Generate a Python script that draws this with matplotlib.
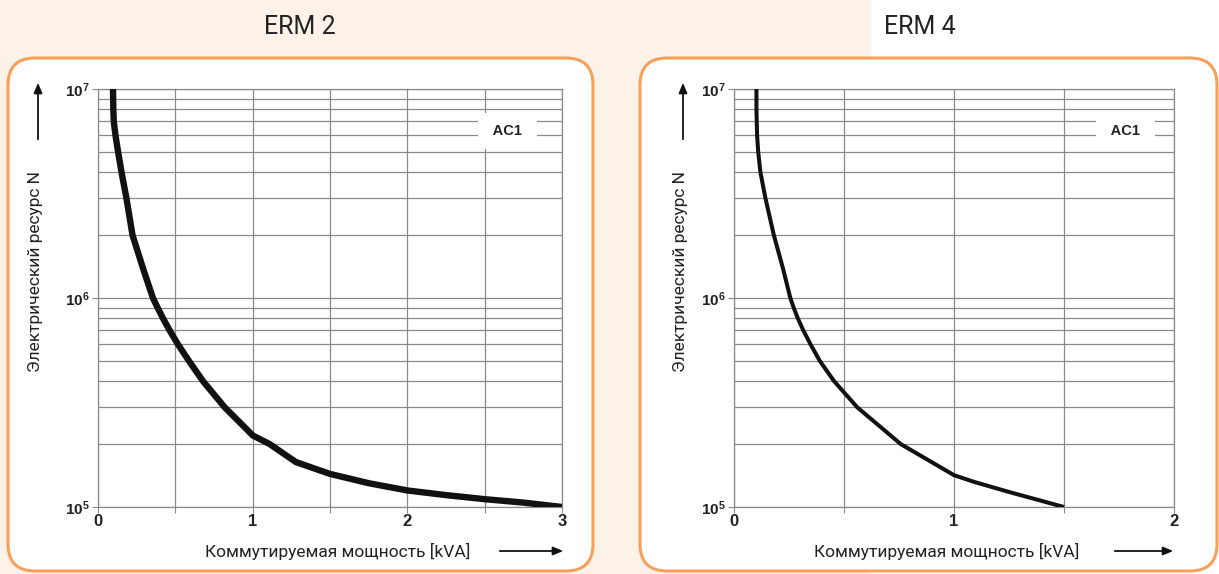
import numpy as np
import matplotlib
matplotlib.use("Agg")
import matplotlib.pyplot as plt
from matplotlib.patches import FancyBboxPatch, Rectangle
from matplotlib.ticker import FixedLocator, NullFormatter

# data (kVA -> number of operations)
erm2_kva = [0.097, 0.099, 0.102, 0.113, 0.130, 0.152, 0.184, 0.223, 0.292, 0.355,
            0.385, 0.420, 0.463, 0.517, 0.588, 0.679, 0.819, 0.970, 1.000, 1.110,
            1.280, 1.500, 1.750, 2.000, 2.250, 2.500, 2.750, 3.000]
erm2_ops = [1e7, 8e6, 7e6, 6e6, 5e6, 4e6, 3e6, 2e6, 1.38e6, 1e6,
            9e5, 8e5, 7e5, 6e5, 5e5, 4e5, 3e5, 2.32e5, 2.2e5, 2e5,
            1.64e5, 1.44e5, 1.3e5, 1.2e5, 1.14e5, 1.09e5, 1.05e5, 1e5]

erm4_kva = [0.102, 0.102, 0.105, 0.110, 0.120, 0.143, 0.181, 0.223, 0.256, 0.271,
            0.290, 0.315, 0.348, 0.390, 0.455, 0.560, 0.758, 1.000, 1.090, 1.250, 1.500]
erm4_ops = [1e7, 8e6, 6e6, 5e6, 4e6, 3e6, 2e6, 1.38e6, 1e6, 9e5,
            8e5, 7e5, 6e5, 5e5, 4e5, 3e5, 2e5, 1.42e5, 1.32e5, 1.18e5, 1e5]

titles = ["ERM 2", "ERM 4"]
xmax = [3, 2]
ytick_labels = ["10$^5$", "10$^6$", "10$^7$"]
ylabel = "Электрический ресурс N"
xlabel = "Коммутируемая мощность [kVA]"
curve_tag = " AC1 "

W, H = 1219, 574
ORANGE = "#f6a15b"
PEACH = "#fdf2e8"
GRID = "#8a8a8a"
label_font = ["Roboto", "DejaVu Sans"]
arial = ["Liberation Sans", "DejaVu Sans"]

plt.rcParams["mathtext.fontset"] = "custom"
plt.rcParams["mathtext.rm"] = "Liberation Sans:bold"
plt.rcParams["mathtext.it"] = "Liberation Sans:bold"
plt.rcParams["mathtext.bf"] = "Liberation Sans:bold"

fig = plt.figure(figsize=(W / 100, H / 100), dpi=100, facecolor="white")
inch = fig.dpi_scale_trans

# peach band behind left part
fig.patches.append(Rectangle((0, 0), 8.71, H / 100, transform=inch,
                             facecolor=PEACH, edgecolor="none", zorder=0))

# rounded white panels
for x0, x1 in [(8, 593), (640, 1217)]:
    fig.patches.append(FancyBboxPatch((x0 / 100, 0.03), (x1 - x0) / 100, (574 - 58 - 3) / 100,
                                      boxstyle="round,pad=0,rounding_size=0.27",
                                      transform=inch, facecolor="white",
                                      edgecolor=ORANGE, linewidth=2.2, zorder=1))


def fx(px):
    return px / W


def fy(py):
    return 1 - py / H


# pixel geometry of the two plot areas
panels = [
    dict(left=98, right=562, title_x=300, ylab_x=36, arr_x=38, xlab_x=338, xarr=(497, 566),
         tag_x=2.65, lw=4.6, x=erm2_kva, y=erm2_ops),
    dict(left=734, right=1174, title_x=920, ylab_x=680, arr_x=683, xlab_x=947, xarr=(1112, 1176),
         tag_x=1.78, lw=2.9, x=erm4_kva, y=erm4_ops),
]
top, bottom = 89, 507

for i, p in enumerate(panels):
    ax = fig.add_axes([fx(p["left"]), fy(bottom), (p["right"] - p["left"]) / W, (bottom - top) / H])
    ax.set_zorder(3)
    ax.set_yscale("log")
    ax.set_xlim(0, xmax[i])
    ax.set_ylim(1e5, 1e7)

    xt = np.arange(0, xmax[i] + 0.01, 0.5)
    ax.xaxis.set_major_locator(FixedLocator(xt))
    ax.set_xticklabels([str(int(v)) if v == int(v) else "" for v in xt])
    ax.yaxis.set_major_locator(FixedLocator([1e5, 1e6, 1e7]))
    ax.set_yticklabels(ytick_labels)
    minors = [m * 10 ** e for e in (5, 6) for m in range(2, 10)]
    ax.yaxis.set_minor_locator(FixedLocator(minors))
    ax.yaxis.set_minor_formatter(NullFormatter())

    ax.grid(True, which="both", color=GRID, linewidth=0.9)
    ax.tick_params(axis="y", which="minor", length=0)
    ax.tick_params(axis="both", which="major", length=4, width=0.8, color=GRID, pad=1)
    ax.tick_params(axis="y", which="major", pad=2)
    for s in ax.spines.values():
        s.set_color(GRID)
        s.set_linewidth(0.9)
    for t in ax.get_xticklabels():
        t.set_fontfamily(arial)
        t.set_fontsize(12)
        t.set_fontweight("bold")
        t.set_color("#222222")
    for t in ax.get_yticklabels():
        t.set_fontfamily(arial)
        t.set_fontsize(11)
        t.set_fontweight("bold")
        t.set_color("#222222")

    ax.plot(p["x"], p["y"], color="#111111", linewidth=p["lw"], solid_capstyle="butt",
            solid_joinstyle="round", zorder=4)

    ax.text(p["tag_x"], 6.3e6, curve_tag, ha="center", va="center", fontsize=10.5,
            fontweight="bold", family=arial, color="#222222", zorder=5,
            bbox=dict(boxstyle="square,pad=0.75", facecolor="white", edgecolor="none"))

    # titles and axis labels in figure coords
    fig.text(fx(p["title_x"]), fy(27), titles[i], ha="center", va="center",
             fontsize=18, family=label_font, color="#222222")
    fig.text(fx(p["ylab_x"]), fy(271), ylabel, rotation=90, ha="center", va="center",
             fontsize=12.5, family=label_font, color="#222222")
    fig.text(fx(p["xlab_x"]), fy(551), xlabel, ha="center", va="center",
             fontsize=12.5, family=label_font, color="#222222")

    ax.annotate("", xy=(fx(p["arr_x"]), fy(80)), xytext=(fx(p["arr_x"]), fy(142)),
                xycoords="figure fraction", textcoords="figure fraction",
                arrowprops=dict(arrowstyle="-|>,head_length=0.6,head_width=0.25",
                                color="#111111", lw=1.3), annotation_clip=False)
    ax.annotate("", xy=(fx(p["xarr"][1]), fy(551)), xytext=(fx(p["xarr"][0]), fy(551)),
                xycoords="figure fraction", textcoords="figure fraction",
                arrowprops=dict(arrowstyle="-|>,head_length=0.6,head_width=0.25",
                                color="#111111", lw=1.3), annotation_clip=False)

fig.savefig("out.png", dpi=100, facecolor=fig.get_facecolor())
